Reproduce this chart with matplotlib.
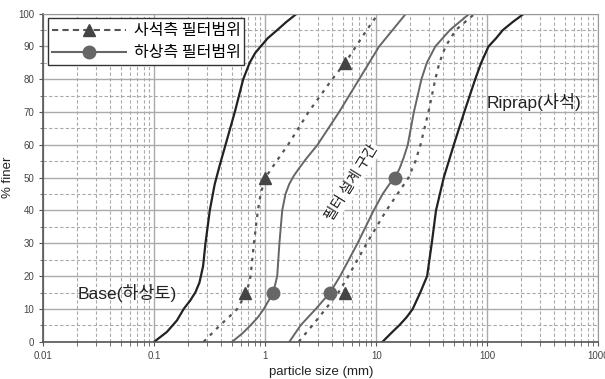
"""
    입도분포곡선 - 필터 설계 구간
"""
from matplotlib import pyplot as plt
from matplotlib.ticker import LogLocator, FixedLocator, NullFormatter

plt.rcParams['font.family'] = ['Liberation Sans', 'Noto Sans CJK KR', 'DejaVu Sans']

# 하상토 (Base)
base_d = [0.1, 0.13, 0.16, 0.184, 0.21, 0.234, 0.255, 0.275, 0.289, 0.316, 0.35, 0.39, 0.438, 0.531, 0.632, 0.722, 0.81, 0.908, 1.05, 1.28, 1.55, 1.92]
base_p = [0, 3, 6.5, 10, 12.5, 15, 18, 23, 30, 40, 48, 54, 60, 70, 80, 85, 88, 90, 92.5, 95, 97.5, 100]

# 사석측 필터범위 (좌측, 점선)
rf1_d = [0.278, 0.33, 0.39, 0.47, 0.558, 0.68, 0.736, 0.79, 0.857, 0.908, 1.0, 1.26, 1.6, 1.9, 2.45, 4.0, 5.24, 6.55, 8.2, 10.4]
rf1_p = [0, 2.5, 5, 7.5, 10, 15, 20, 30, 40, 45, 50, 55, 60, 64, 70, 80, 85, 90, 95, 100]

# 하상측 필터범위 (좌측, 실선)
bf1_d = [0.503, 0.62, 0.736, 0.86, 0.97, 1.18, 1.28, 1.34, 1.42, 1.52, 1.64, 1.8, 1.98, 2.3, 2.95, 4.62, 7.0, 10.6, 18.5]
bf1_p = [0, 2.5, 5, 7.5, 10, 15, 20, 30, 40, 45, 48, 50.5, 52.5, 55.5, 60, 70, 80, 90, 100]

# 하상측 필터범위 (우측, 실선)
bf2_d = [1.65, 2.08, 2.85, 3.84, 4.72, 6.78, 9.46, 11.4, 13.1, 14.8, 16.3, 17.6, 19.2, 21.8, 25.5, 28.5, 34, 46, 69]
bf2_p = [0, 5, 10, 15, 20, 30, 40, 45, 48, 50, 53, 56, 60, 70, 80, 85, 90, 95, 100]

# 사석측 필터범위 (우측, 점선)
rf2_d = [2.0, 2.66, 3.5, 4.55, 5.6, 8.2, 12.3, 15.5, 19.5, 22.5, 25, 29.5, 34, 37, 42, 52, 77]
rf2_p = [0, 5, 10, 15, 20, 30, 40, 45, 50, 55, 60, 70, 80, 85, 90, 95, 100]

# 사석 (Riprap)
rip_d = [11.4, 13.5, 16.1, 18.8, 21.3, 24.9, 28.7, 31.6, 34.5, 40.5, 49.9, 62, 77.8, 88, 102.5, 120, 138, 170, 214]
rip_p = [0, 2.5, 5, 7.5, 10, 15, 20, 30, 40, 50, 60, 70, 80, 85, 90, 92.5, 95, 97.5, 100]

# 마커 위치
tri_d = [0.65, 1.0, 5.2, 5.2]
tri_p = [15, 50, 85, 15]
cir_d = [1.18, 3.84, 14.8]
cir_p = [15, 15, 50]

fig = plt.figure(figsize=(6.05, 3.79), dpi=100)
ax = fig.add_axes([0.0716, 0.0984, 0.9173, 0.8655])

dark = "#222222"
gray = "#666666"
dot_c = "#555555"

ax.plot(base_d, base_p, color=dark, lw=1.6)
ax.plot(rip_d, rip_p, color=dark, lw=1.6)
ax.plot(bf1_d, bf1_p, color=gray, lw=1.4)
ax.plot(bf2_d, bf2_p, color=gray, lw=1.4)
ax.plot(rf1_d, rf1_p, color=dot_c, lw=1.6, ls=(0, (1.5, 2.5)))
ax.plot(rf2_d, rf2_p, color=dot_c, lw=1.6, ls=(0, (1.5, 2.5)))
ax.plot(tri_d, tri_p, ls="none", marker="^", ms=8, color="#444444")
ax.plot(cir_d, cir_p, ls="none", marker="o", ms=9, color=gray)

ax.set_xscale("log")
ax.set_xlim(0.01, 1000)
ax.set_ylim(0, 100)

ax.set_yticks(range(0, 101, 10))
ax.yaxis.set_minor_locator(FixedLocator(range(5, 100, 10)))
ax.xaxis.set_minor_locator(LogLocator(base=10, subs=range(2, 10), numticks=10))
ax.xaxis.set_minor_formatter(NullFormatter())
ax.set_xticks([0.01, 0.1, 1, 10, 100, 1000])
ax.set_xticklabels(["0.01", "0.1", "1", "10", "100", "1000"])

ax.grid(which="major", color="#aaaaaa", lw=1.0, ls="-")
ax.grid(which="minor", color="#aaaaaa", lw=0.8, ls=(0, (3, 2)))
ax.set_axisbelow(True)

ax.tick_params(which="both", direction="out", length=3, color="#555555",
               labelsize=7, labelcolor="#444444")
ax.tick_params(axis="y", which="minor", length=2)
for side in ["top", "right"]:
    ax.spines[side].set_color("#999999")
for side in ["left", "bottom"]:
    ax.spines[side].set_color("#555555")
    ax.spines[side].set_linewidth(1.2)

ax.set_xlabel("particle size (mm)", fontsize=9.5, color="#222222", labelpad=4)
ax.set_ylabel("% finer", fontsize=9.5, color="#222222", labelpad=3)

ax.text(0.057, 15, "Base(하상토)", fontsize=12.5, ha="center", va="center", color="#222222")
ax.text(265, 73, "Riprap(사석)", fontsize=12.5, ha="center", va="center", color="#222222")
ax.text(6.0, 48.4, "필터 설계 구간", fontsize=10.5, ha="center", va="center",
        rotation=58, color="#222222",
        family=["Noto Sans CJK KR", "DejaVu Sans"],
        bbox=dict(facecolor="white", edgecolor="none", pad=1))

# 범례
ax.plot([], [], color=dot_c, lw=1.5, ls=(0, (3, 2)), marker="^", ms=8,
        markerfacecolor="#444444", markeredgecolor="#444444", label="사석측 필터범위")
ax.plot([], [], color=gray, lw=1.5, marker="o", ms=9, label="하상측 필터범위")
handles, labels = ax.get_legend_handles_labels()
leg = ax.legend(handles, labels, loc="upper left", fancybox=False,
                prop={"family": ["Noto Sans CJK KR", "DejaVu Sans"], "size": 11.5},
                framealpha=1, edgecolor="#333333", handlelength=4.6,
                borderpad=0.25, labelspacing=0.3, handletextpad=0.5,
                borderaxespad=0.3)
leg.get_frame().set_linewidth(1.0)

plt.savefig("out.png", dpi=100)
